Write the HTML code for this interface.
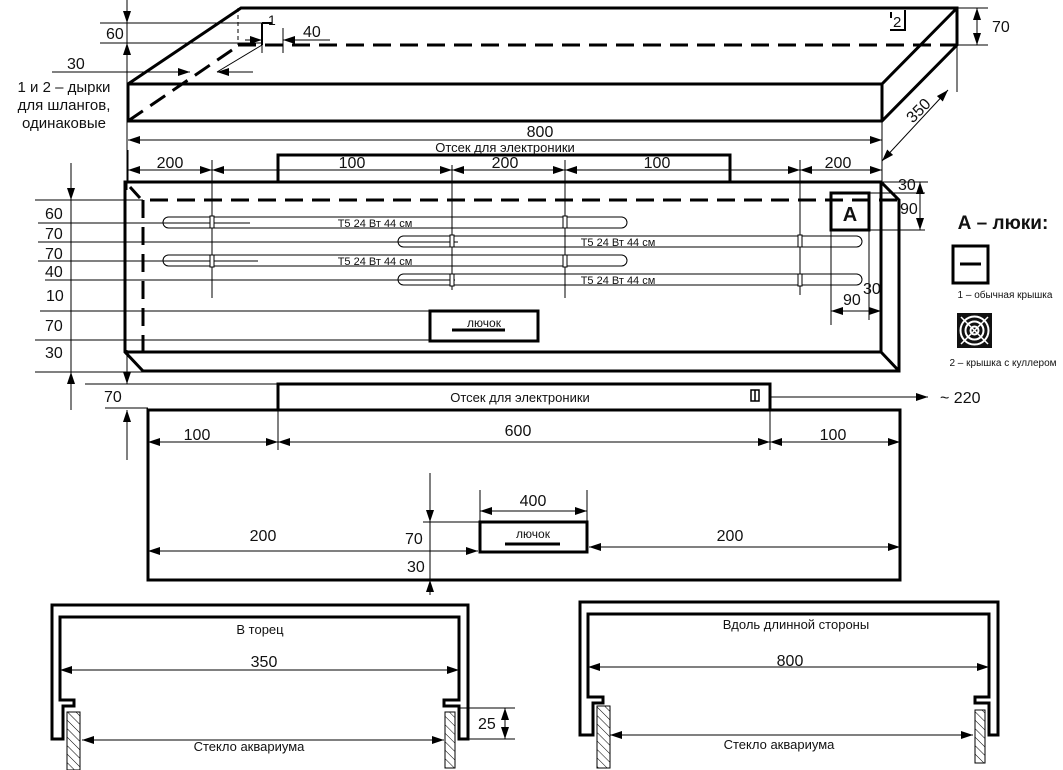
<!DOCTYPE html>
<html><head><meta charset="utf-8"><style>
html,body{margin:0;padding:0;background:#fff}
svg{display:block}
text{font-family:"Liberation Sans",Arial,sans-serif;fill:#111}
</style></head><body>
<svg width="1063" height="770" viewBox="0 0 1063 770" xmlns="http://www.w3.org/2000/svg">
<defs>
<marker id="a" viewBox="0 0 12 8" refX="12" refY="4" markerWidth="12" markerHeight="8" markerUnits="userSpaceOnUse" orient="auto-start-reverse"><path d="M0,0 L12,4 L0,8 Z" fill="#000"/></marker>
<pattern id="h" width="6" height="6" patternUnits="userSpaceOnUse" patternTransform="rotate(-45)"><line x1="0" y1="0" x2="0" y2="6" stroke="#000" stroke-width="1"/></pattern>
</defs>
<g fill="none" stroke="#000">
<!-- ISO BOX -->
<g stroke-width="3">
<path d="M128,84 L241,8 L957,8 L957,45 L882,121 L128,121 Z"/>
<path d="M128,84 L882,84 L957,8 M882,84 L882,121"/>
</g>
<g stroke-width="3" stroke-dasharray="18,9">
<path d="M238,45 L957,45"/>
<path d="M128,121 L232,50"/>
</g>
<path d="M238,8 V45" stroke-width="1" stroke-dasharray="4,3"/>
<g stroke-width="1">
<path d="M100,23 H270 M100,43 H262 M127,0 V190"/>
<path d="M127,0 V23" marker-end="url(#a)"/><path d="M127,66 V43" marker-end="url(#a)"/>
<path d="M52,72 H190" marker-end="url(#a)"/><path d="M253,72 H217" marker-end="url(#a)"/>
<path d="M217,72 L262,45"/>
<path d="M245,40 H262" marker-end="url(#a)"/><path d="M330,40 H283" marker-end="url(#a)"/>
<path d="M283,28 V53 M262,23 V53"/>
<path d="M957,8 H988 M957,45 H988 M957,45 V92 M882,121 V160"/>
<path d="M977,27 V8" marker-end="url(#a)"/><path d="M977,27 V45" marker-end="url(#a)"/>
<path d="M128,140 H882" marker-start="url(#a)" marker-end="url(#a)"/>
<path d="M882,161 L948,90" marker-start="url(#a)" marker-end="url(#a)"/>
</g>
<path d="M262,23 V45 M262,23 H272" stroke-width="2"/>
<path d="M891,12 V18 M905,10 V30 H890" stroke-width="2"/>

<!-- TOP VIEW -->
<rect x="278" y="155" width="452" height="27" stroke-width="3"/>
<path d="M125,182 L881,182 L899,200 L899,371 L143,371 L125,352 Z" stroke-width="3"/>
<path d="M125,352 H881 L899,371 M881,182 V352 M130,187 L140,198" stroke-width="3"/>
<path d="M150,200 H899" stroke-width="3" stroke-dasharray="18,9"/>
<path d="M143,200 V362" stroke-width="3" stroke-dasharray="18,9"/>
<g stroke-width="1">
<path d="M128,150 V182 M212,160 V298 M452,165 V290 M565,160 V298 M800,160 V295 M882,150 V182"/>
<path d="M128,170 H212" marker-start="url(#a)" marker-end="url(#a)"/>
<path d="M212,170 H452" marker-start="url(#a)" marker-end="url(#a)"/>
<path d="M452,170 H565" marker-start="url(#a)" marker-end="url(#a)"/>
<path d="M565,170 H800" marker-start="url(#a)" marker-end="url(#a)"/>
<path d="M800,170 H882" marker-start="url(#a)" marker-end="url(#a)"/>
<rect x="163" y="217" width="464" height="11" rx="5.5"/>
<rect x="398" y="236" width="464" height="11" rx="5.5"/>
<rect x="163" y="255" width="464" height="11" rx="5.5"/>
<rect x="398" y="274" width="464" height="11" rx="5.5"/>
<path d="M35,200 H143 M38,223 H250 M38,242 H458 M38,261 H258 M45,280 H455 M40,311 H430 M35,340 H430 M35,372 H143"/>
<path d="M71,163 V200" marker-end="url(#a)"/><path d="M71,410 V372" marker-end="url(#a)"/>
<path d="M71,200 V372"/>
<path d="M869,182 H928 M869,193 H925 M869,230 H925 M831,230 V325 M869,230 V320 M881,300 V325"/>
<path d="M920,205 V182" marker-end="url(#a)"/><path d="M920,205 V230" marker-end="url(#a)"/>
<path d="M831,311 H869" marker-start="url(#a)"/><path d="M869,311 H881" marker-end="url(#a)"/>
</g>
<g fill="#fff" stroke-width="1"><rect x="210" y="216" width="4" height="12"/><rect x="563" y="216" width="4" height="12"/><rect x="210" y="255" width="4" height="12"/><rect x="563" y="255" width="4" height="12"/><rect x="450" y="235" width="4" height="12"/><rect x="798" y="235" width="4" height="12"/><rect x="450" y="274" width="4" height="12"/><rect x="798" y="274" width="4" height="12"/></g>
<rect x="430" y="311" width="108" height="30" stroke-width="3"/>
<path d="M452,330 H505" stroke-width="3"/>
<rect x="831" y="193" width="38" height="37" stroke-width="3"/>
<!-- legend -->
<rect x="953" y="246" width="35" height="37" stroke-width="3"/>
<path d="M960,264 H981" stroke-width="3"/>
<rect x="957" y="313" width="35" height="35" fill="#111" stroke="none"/>
<g stroke="#fff" stroke-width="2"><circle cx="974.5" cy="330.5" r="14"/><circle cx="974.5" cy="330.5" r="9"/><circle cx="974.5" cy="330.5" r="4"/><path d="M961,317 L988,344 M988,317 L961,344" stroke-width="1.5"/></g>

<!-- FRONT VIEW -->
<rect x="278" y="384" width="492" height="26" stroke-width="3"/>
<rect x="751" y="390" width="8" height="11" stroke-width="1.5"/><path d="M755,390 V401" stroke-width="1.5"/>
<rect x="148" y="410" width="752" height="170" stroke-width="3"/>
<g stroke-width="1">
<path d="M770,397 H928" marker-end="url(#a)"/>
<path d="M85,384 H278 M105,408 H148 M127,410 V460"/>
<path d="M127,350 V384" marker-end="url(#a)"/><path d="M127,440 V410" marker-end="url(#a)"/>
<path d="M278,410 V450 M770,410 V450"/>
<path d="M148,442 H278" marker-start="url(#a)" marker-end="url(#a)"/>
<path d="M278,442 H770" marker-start="url(#a)" marker-end="url(#a)"/>
<path d="M770,442 H900" marker-start="url(#a)" marker-end="url(#a)"/>
<path d="M480,490 V522 M587,490 V522"/>
<path d="M480,511 H587" marker-start="url(#a)" marker-end="url(#a)"/>
<path d="M148,551 H478" marker-start="url(#a)" marker-end="url(#a)"/>
<path d="M589,547 H900" marker-start="url(#a)" marker-end="url(#a)"/>
<path d="M423,522 H480"/>
<path d="M430,473 V522" marker-end="url(#a)"/><path d="M430,595 V580" marker-end="url(#a)"/>
<path d="M430,522 V580"/>
</g>
<rect x="480" y="522" width="107" height="30" stroke-width="3"/>
<path d="M505,544 H560" stroke-width="3"/>

<!-- PROFILES -->
<path d="M52,605 H468 V739 H459 V706 H444 V700 H459 V617 H60 V700 H74 V706 H63 V739 H52 Z" stroke-width="3"/>
<rect x="67" y="712" width="13" height="58" fill="url(#h)" stroke-width="1"/>
<rect x="445" y="712" width="10" height="56" fill="url(#h)" stroke-width="1"/>
<g stroke-width="1">
<path d="M60,670 H459" marker-start="url(#a)" marker-end="url(#a)"/>
<path d="M82,740 H444" marker-start="url(#a)" marker-end="url(#a)"/>
<path d="M459,708 H515 M468,739 H515"/>
<path d="M505,722 V708" marker-end="url(#a)"/><path d="M505,722 V739" marker-end="url(#a)"/>
</g>
<path d="M580,602 H998 V735 H989 V703 H975 V697 H989 V614 H588 V697 H603 V703 H593 V735 H580 Z" stroke-width="3"/>
<rect x="597" y="706" width="13" height="62" fill="url(#h)" stroke-width="1"/>
<rect x="975" y="710" width="10" height="53" fill="url(#h)" stroke-width="1"/>
<g stroke-width="1">
<path d="M588,667 H989" marker-start="url(#a)" marker-end="url(#a)"/>
<path d="M610,735 H973" marker-start="url(#a)" marker-end="url(#a)"/>
</g>
</g>

<g font-size="16">
<text x="106" y="39">60</text>
<text x="67" y="69">30</text>
<text x="268" y="25" font-size="14">1</text>
<text x="303" y="37">40</text>
<text x="893" y="27" font-size="15">2</text>
<text x="992" y="32">70</text>
<text x="64" y="92" text-anchor="middle" font-size="15">1 и 2 – дырки</text>
<text x="64" y="110" text-anchor="middle" font-size="15">для шлангов,</text>
<text x="64" y="128" text-anchor="middle" font-size="15">одинаковые</text>
<text x="540" y="137" text-anchor="middle">800</text>
<text x="505" y="152" text-anchor="middle" font-size="13">Отсек для электроники</text>
<text x="918" y="116" text-anchor="middle" transform="rotate(-45 918 110)">350</text>
<text x="170" y="168" text-anchor="middle">200</text>
<text x="352" y="168" text-anchor="middle">100</text>
<text x="505" y="168" text-anchor="middle">200</text>
<text x="657" y="168" text-anchor="middle">100</text>
<text x="838" y="168" text-anchor="middle">200</text>
<text x="45" y="219">60</text>
<text x="45" y="239">70</text>
<text x="45" y="259">70</text>
<text x="45" y="277">40</text>
<text x="46" y="301">10</text>
<text x="45" y="331">70</text>
<text x="45" y="358">30</text>
<text x="898" y="190">30</text>
<text x="900" y="214">90</text>
<text x="863" y="294">30</text>
<text x="843" y="305">90</text>
<text x="104" y="402">70</text>
<text x="940" y="403">~ 220</text>
<text x="197" y="440" text-anchor="middle">100</text>
<text x="518" y="436" text-anchor="middle">600</text>
<text x="833" y="440" text-anchor="middle">100</text>
<text x="533" y="506" text-anchor="middle">400</text>
<text x="263" y="541" text-anchor="middle">200</text>
<text x="730" y="541" text-anchor="middle">200</text>
<text x="405" y="544">70</text>
<text x="407" y="572">30</text>
<text x="264" y="667" text-anchor="middle">350</text>
<text x="478" y="729">25</text>
<text x="790" y="666" text-anchor="middle">800</text>
</g>
<g font-size="11">
<text x="375" y="227" text-anchor="middle">Т5 24 Вт 44 см</text>
<text x="618" y="246" text-anchor="middle">Т5 24 Вт 44 см</text>
<text x="375" y="265" text-anchor="middle">Т5 24 Вт 44 см</text>
<text x="618" y="284" text-anchor="middle">Т5 24 Вт 44 см</text>
</g>
<text x="484" y="327" text-anchor="middle" font-size="12">лючок</text>
<text x="533" y="538" text-anchor="middle" font-size="12">лючок</text>
<text x="850" y="221" text-anchor="middle" font-size="20" font-weight="bold">А</text>
<text x="1003" y="229" text-anchor="middle" font-size="19" font-weight="bold">А – люки:</text>
<text x="1005" y="298" text-anchor="middle" font-size="10">1 – обычная крышка</text>
<text x="1003" y="366" text-anchor="middle" font-size="10">2 – крышка с куллером</text>
<text x="520" y="402" text-anchor="middle" font-size="13">Отсек для электроники</text>
<text x="260" y="634" text-anchor="middle" font-size="13">В торец</text>
<text x="249" y="751" text-anchor="middle" font-size="13">Стекло аквариума</text>
<text x="796" y="629" text-anchor="middle" font-size="13">Вдоль длинной стороны</text>
<text x="779" y="749" text-anchor="middle" font-size="13">Стекло аквариума</text>
</svg>
</body></html>
